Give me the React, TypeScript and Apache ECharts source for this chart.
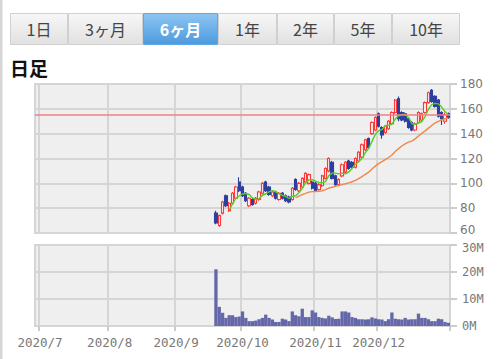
import React, { useEffect, useRef } from 'react';
import * as echarts from 'echarts';

// ---- calendar (trading days shown on the axis) ----
const START_DATE = '2020-06-30';
const END_DATE = '2020-12-30';
const HOLIDAYS = ['2020-07-23', '2020-07-24', '2020-08-10', '2020-09-21', '2020-09-22', '2020-11-03', '2020-11-23'];

// ---- daily candles [open, close, low, high], aligned to the last trading days ----
const candles: number[][] = [
  [76, 68, 67, 78], [66, 74, 65, 75], [76, 85, 75, 86], [90, 82, 81, 91], [78, 84, 77, 85],
  [84, 92, 83, 93], [88, 97, 87, 98], [101, 94, 93, 105], [97, 90, 89, 98], [92, 86, 85, 93],
  [82, 88, 81, 89], [87, 83, 82, 88], [84, 88, 83, 89], [87, 93, 86, 94], [92, 100, 91, 101],
  [101, 94, 93, 102], [97, 91, 90, 98], [90, 93, 89, 94], [93, 88, 87, 94], [87, 92, 86, 93],
  [92, 88, 87, 93], [90, 86, 85, 91], [89, 85, 84, 90], [87, 96, 86, 97], [103, 95, 94, 104],
  [94, 100, 93, 101], [97, 104, 96, 105], [101, 108, 100, 109], [100, 107, 99, 108], [101, 96, 95, 102],
  [100, 94, 93, 101], [95, 99, 94, 100], [98, 106, 97, 107], [104, 112, 103, 113], [110, 120, 109, 121],
  [117, 104, 103, 118], [106, 99, 98, 107], [99, 103, 98, 104], [106, 115, 105, 116], [109, 117, 108, 118],
  [118, 112, 111, 119], [117, 113, 112, 118], [113, 120, 112, 121], [118, 125, 117, 126], [121, 131, 120, 132],
  [127, 135, 126, 136], [136, 129, 128, 137], [140, 149, 139, 150], [143, 153, 142, 154], [156, 146, 145, 157],
  [145, 139, 136, 146], [141, 146, 140, 147], [144, 150, 143, 151], [148, 157, 147, 158], [157, 167, 156, 168],
  [168, 152, 150, 170], [157, 151, 150, 158], [156, 150, 149, 157], [152, 145, 144, 153], [149, 143, 142, 150],
  [143, 148, 142, 149], [149, 157, 148, 158], [151, 156, 150, 157], [157, 165, 156, 166], [165, 173, 164, 174],
  [175, 166, 165, 176], [170, 162, 161, 171], [167, 154, 153, 168], [157, 152, 147, 158], [150, 155, 148, 157],
  [156, 153, 152, 157],
];

// ---- daily volume (millions of shares) ----
const volumesM: number[] = [
  21, 7.1, 4.9, 3.0, 4.0, 4.0, 3.3, 3.5, 5.4, 3.0,
  1.8, 1.8, 2.0, 2.5, 3.0, 4.2, 3.0, 2.4, 1.5, 1.5,
  2.7, 2.4, 1.8, 5.4, 4.0, 3.6, 6.4, 3.3, 3.3, 5.8,
  5.0, 3.3, 3.0, 2.8, 3.8, 3.2, 2.6, 2.7, 5.4, 5.4,
  5.0, 3.3, 3.0, 2.5, 2.5, 2.4, 2.5, 3.2, 2.8, 2.5,
  2.4, 1.8, 2.5, 5.0, 2.7, 2.5, 2.4, 3.0, 2.4, 2.5,
  2.5, 4.6, 3.0, 3.0, 2.5, 1.8, 1.8, 2.7, 2.5, 1.5,
  1.2,
];

const REFERENCE_PRICE = 155;
const MA_SHORT = 5;
const MA_LONG = 25;

const PRICE_TICKS = { min: 60, max: 180, interval: 20 };
const VOLUME_TICKS = { min: 0, max: 30, interval: 10 };

const TABS = ['1日', '3ヶ月', '6ヶ月', '1年', '2年', '5年', '10年'];
const ACTIVE_TAB = 2;
const TITLE = '日足';

// layout only
const TAB_EDGES = [10, 68, 143, 218, 277, 334, 392, 460];

function tradingDays(): string[] {
  const out: string[] = [];
  const d = new Date(START_DATE + 'T00:00:00Z');
  const end = new Date(END_DATE + 'T00:00:00Z');
  while (d <= end) {
    const iso = d.toISOString().slice(0, 10);
    const wd = d.getUTCDay();
    if (wd !== 0 && wd !== 6 && HOLIDAYS.indexOf(iso) < 0) out.push(iso);
    d.setUTCDate(d.getUTCDate() + 1);
  }
  return out;
}

function movingAverage(closes: number[], n: number): (number | string)[] {
  return closes.map((_, i) => {
    if (i < n - 1) return '-';
    let s = 0;
    for (let j = i - n + 1; j <= i; j++) s += closes[j];
    return +(s / n).toFixed(2);
  });
}

export default function App() {
  const ref = useRef<HTMLDivElement>(null);

  useEffect(() => {
    if (!ref.current) return;
    const chart = echarts.init(ref.current, undefined, { renderer: 'svg' });

    const dates = tradingDays();
    const pad = dates.length - candles.length;
    const blanks = (n: number) => Array.from({ length: n }, () => '-');
    const closes = candles.map((c) => c[1]);
    const candleData = [...blanks(pad), ...candles];
    const volData = [...blanks(pad), ...volumesM.map((v) => v * 1e6)];
    const maS = [...blanks(pad), ...movingAverage(closes, MA_SHORT)];
    const maL = [...blanks(pad), ...movingAverage(closes, MA_LONG)];

    const isMonthStart = (index: number) =>
      index > 0 && dates[index].slice(5, 7) !== dates[index - 1].slice(5, 7);

    const gridLine = { lineStyle: { color: '#d5d5d5', width: 2 } };
    const jpFont = '"Noto Sans CJK JP", "Noto Sans", sans-serif';
    const priceFont = { color: '#777777', fontSize: 12, fontFamily: '"DejaVu Sans", sans-serif' };
    const volFont = { color: '#777777', fontSize: 12, fontFamily: '"DejaVu Sans Mono", monospace' };

    const tabGraphics: any[] = [];
    TABS.forEach((t, i) => {
      const x0 = TAB_EDGES[i];
      const x1 = TAB_EDGES[i + 1];
      const active = i === ACTIVE_TAB;
      tabGraphics.push({
        type: 'rect',
        shape: { x: x0 + 0.5, y: 13.5, width: x1 - x0 - 1, height: 31 },
        style: {
          fill: new echarts.graphic.LinearGradient(0, 0, 0, 1, active
            ? [{ offset: 0, color: '#8ec6f2' }, { offset: 1, color: '#4c9ade' }]
            : [{ offset: 0, color: '#f7f7f7' }, { offset: 1, color: '#e1e1e1' }]),
          stroke: active ? '#5ea6e4' : '#d0d0d0',
          lineWidth: 1,
        },
      });
      tabGraphics.push({
        type: 'text',
        x: (x0 + x1) / 2,
        y: 29,
        style: {
          text: t,
          textAlign: 'center',
          textVerticalAlign: 'middle',
          fontSize: 16,
          fontWeight: active ? 'bold' : 'normal',
          fontFamily: jpFont,
          fill: active ? '#ffffff' : '#444444',
        },
      });
    });

    chart.setOption({
      animation: false,
      backgroundColor: '#ffffff',
      graphic: [
        { type: 'rect', shape: { x: 0, y: 0, width: 2.5, height: 359 }, style: { fill: '#d6d6d6' } },
        ...tabGraphics,
        {
          type: 'text',
          x: 10,
          y: 67,
          style: {
            text: TITLE,
            textVerticalAlign: 'middle',
            fontSize: 19,
            fontWeight: 'bold',
            fontFamily: jpFont,
            fill: '#111111',
          },
        },
      ],
      grid: [
        { left: 35, top: 84, width: 415, height: 149, show: true, backgroundColor: '#efefef', borderColor: '#d6d6d6', borderWidth: 2 },
        { left: 35, top: 245, width: 415, height: 81, show: true, backgroundColor: '#efefef', borderColor: '#d6d6d6', borderWidth: 2 },
      ],
      xAxis: [
        {
          type: 'category',
          gridIndex: 0,
          data: dates,
          boundaryGap: true,
          axisLine: { show: false },
          axisTick: { show: false },
          axisLabel: { show: false },
          splitLine: { show: true, interval: (i: number) => isMonthStart(i), ...gridLine },
        },
        {
          type: 'category',
          gridIndex: 1,
          data: dates,
          boundaryGap: true,
          axisLine: { show: false },
          axisTick: { show: true, interval: (i: number) => isMonthStart(i), length: 5, lineStyle: { color: '#cccccc', width: 2 } },
          axisLabel: {
            show: true,
            interval: (i: number) => isMonthStart(i),
            formatter: (v: string) => `${v.slice(0, 4)}/${parseInt(v.slice(5, 7), 10)}`,
            color: '#777777',
            fontFamily: '"DejaVu Sans Mono", monospace',
            fontSize: 12.5,
            margin: 10,
          },
          splitLine: { show: true, interval: (i: number) => isMonthStart(i), ...gridLine },
        },
      ],
      yAxis: [
        {
          type: 'value',
          gridIndex: 0,
          position: 'right',
          min: PRICE_TICKS.min,
          max: PRICE_TICKS.max,
          interval: PRICE_TICKS.interval,
          axisLine: { show: false },
          axisTick: { show: true, length: 7, lineStyle: { color: '#cccccc', width: 2 } },
          axisLabel: {
            ...priceFont,
            margin: 10,
            formatter: (v: number) => (v === PRICE_TICKS.min ? `{lo|${v}}` : `${v}`),
            rich: { lo: { ...priceFont, padding: [0, 0, 6, 0] } },
          },
          splitLine: { show: true, ...gridLine },
        },
        {
          type: 'value',
          gridIndex: 1,
          position: 'right',
          min: VOLUME_TICKS.min * 1e6,
          max: VOLUME_TICKS.max * 1e6,
          interval: VOLUME_TICKS.interval * 1e6,
          axisLine: { show: false },
          axisTick: { show: true, length: 7, lineStyle: { color: '#cccccc', width: 2 } },
          axisLabel: {
            ...volFont,
            margin: 12,
            formatter: (v: number) => {
              const m = Math.round(v / 1e6);
              return m === VOLUME_TICKS.max ? `{hi|${m}M}` : `${m}M`;
            },
            rich: { hi: { ...volFont, padding: [5, 0, 0, 0] } },
          },
          splitLine: { show: true, ...gridLine },
        },
      ],
      series: [
        {
          type: 'candlestick',
          xAxisIndex: 0,
          yAxisIndex: 0,
          data: candleData,
          barWidth: '85%',
          itemStyle: {
            color: '#fff2f2',
            borderColor: '#ff3a3a',
            color0: '#2f3f9f',
            borderColor0: '#2f3f9f',
            borderWidth: 1.1,
          },
          markLine: {
            silent: true,
            symbol: ['none', 'none'],
            label: { show: false },
            lineStyle: { color: '#f28080', width: 1.5, type: 'solid' },
            data: [{ yAxis: REFERENCE_PRICE }],
          },
          z: 3,
        },
        {
          type: 'line',
          xAxisIndex: 0,
          yAxisIndex: 0,
          data: maS,
          showSymbol: false,
          smooth: false,
          lineStyle: { color: '#4fd022', width: 1.4 },
          z: 4,
        },
        {
          type: 'line',
          xAxisIndex: 0,
          yAxisIndex: 0,
          data: maL,
          showSymbol: false,
          lineStyle: { color: '#f0874a', width: 1.4 },
          z: 4,
        },
        {
          type: 'bar',
          xAxisIndex: 1,
          yAxisIndex: 1,
          data: volData,
          barCategoryGap: '0%',
          itemStyle: { color: '#6467a9' },
        },
      ],
    });

    return () => chart.dispose();
  }, []);

  return (
    <div
      ref={ref}
      style={{ position: 'fixed', left: 0, top: 0, width: 500, height: 359 }}
    />
  );
}
